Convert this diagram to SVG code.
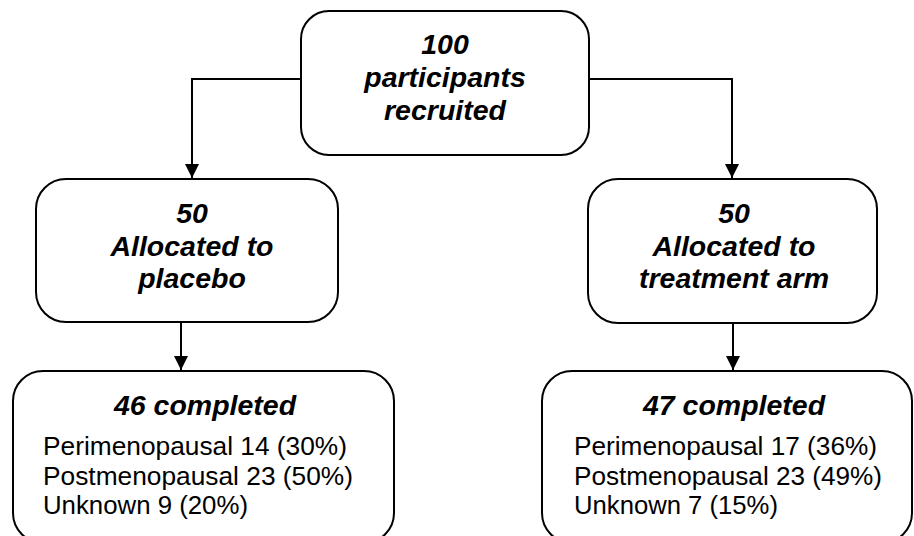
<svg xmlns="http://www.w3.org/2000/svg" width="914" height="536" viewBox="0 0 914 536">
  <style>
    .box { fill: #ffffff; stroke: #000000; stroke-width: 2; }
    .edge { fill: none; stroke: #000000; stroke-width: 2; }
    .head { font-family: "Liberation Sans", Arial, sans-serif; font-weight: bold; font-style: italic; font-size: 28.5px; fill: #000000; text-anchor: middle; }
    .body { font-family: "Liberation Sans", Arial, sans-serif; font-size: 26.5px; fill: #000000; }
  </style>
  <defs>
    <marker id="arrow" markerWidth="14" markerHeight="14" refX="14" refY="7" orient="auto" markerUnits="userSpaceOnUse">
      <path d="M0,0 L14,7 L0,14 Z" fill="#000000"/>
    </marker>
  </defs>
  <rect width="914" height="536" fill="#ffffff"/>

  <g id="connectors">
    <path class="edge" d="M301,79 H192 V178" marker-end="url(#arrow)"/>
    <path class="edge" d="M589,79 H732 V178" marker-end="url(#arrow)"/>
    <path class="edge" d="M181,322 V370" marker-end="url(#arrow)"/>
    <path class="edge" d="M733,323 V370" marker-end="url(#arrow)"/>
  </g>

  <g id="recruited">
    <rect class="box" x="301" y="11" width="288" height="144" rx="28" ry="28"/>
    <text class="head" x="445" y="54">100</text>
    <text class="head" x="445" y="87">participants</text>
    <text class="head" x="445" y="120">recruited</text>
  </g>

  <g id="placebo">
    <rect class="box" x="36" y="179" width="302" height="143" rx="30" ry="30"/>
    <text class="head" x="192" y="223">50</text>
    <text class="head" x="192" y="256">Allocated to</text>
    <text class="head" x="192" y="288">placebo</text>
  </g>

  <g id="treatment">
    <rect class="box" x="588" y="179" width="289" height="144" rx="30" ry="30"/>
    <text class="head" x="734" y="223">50</text>
    <text class="head" x="734" y="256">Allocated to</text>
    <text class="head" x="734" y="288">treatment arm</text>
  </g>

  <g id="placebo-completed">
    <rect class="box" x="13" y="371" width="381" height="172" rx="30" ry="30"/>
    <text class="head" x="205" y="415">46 completed</text>
    <text class="body" x="43" y="455" textLength="304" lengthAdjust="spacingAndGlyphs">Perimenopausal 14 (30%)</text>
    <text class="body" x="43" y="485" textLength="310" lengthAdjust="spacingAndGlyphs">Postmenopausal 23 (50%)</text>
    <text class="body" x="43" y="514" textLength="205" lengthAdjust="spacingAndGlyphs">Unknown 9 (20%)</text>
  </g>

  <g id="treatment-completed">
    <rect class="box" x="542" y="371" width="370" height="172" rx="30" ry="30"/>
    <text class="head" x="734" y="415">47 completed</text>
    <text class="body" x="574" y="455" textLength="303" lengthAdjust="spacingAndGlyphs">Perimenopausal 17 (36%)</text>
    <text class="body" x="574" y="485" textLength="308" lengthAdjust="spacingAndGlyphs">Postmenopausal 23 (49%)</text>
    <text class="body" x="574" y="514" textLength="204" lengthAdjust="spacingAndGlyphs">Unknown 7 (15%)</text>
  </g>
</svg>
